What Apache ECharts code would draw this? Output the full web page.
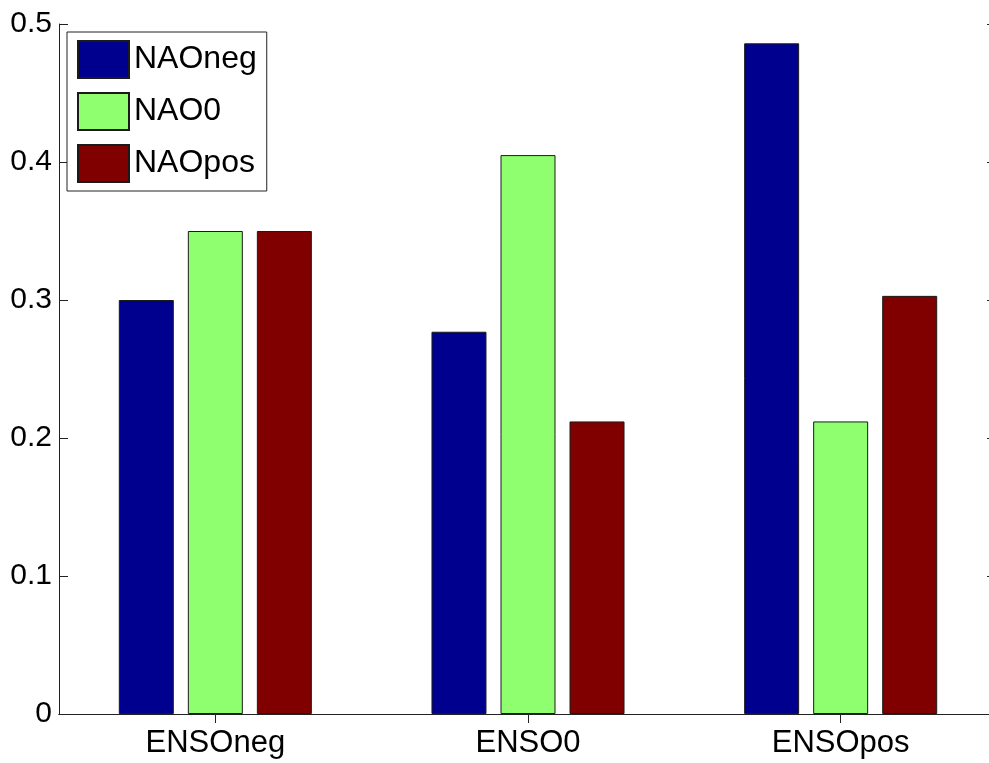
<!DOCTYPE html>
<html>
<head>
<meta charset="utf-8">
<script src="https://cdn.jsdelivr.net/npm/echarts@6/dist/echarts.min.js"></script>
<style>
html,body{margin:0;padding:0;background:#fff;}
#chart{width:989px;height:763px;}
</style>
</head>
<body>
<div id="chart"></div>
<script>
const categories = ['ENSOneg', 'ENSO0', 'ENSOpos'];
const seriesNames = ['NAOneg', 'NAO0', 'NAOpos'];
const naoNeg = [0.300, 0.277, 0.486];
const nao0 = [0.350, 0.405, 0.212];
const naoPos = [0.350, 0.212, 0.303];
const colors = ['#00008F', '#8FFF6F', '#800000'];

const FONT = "'Liberation Sans', Arial, Helvetica, sans-serif";
const axisColor = '#222';
const seriesData = [naoNeg, nao0, naoPos];

const chart = echarts.init(document.getElementById('chart'));
chart.setOption({
  animation: false,
  backgroundColor: '#fff',
  textStyle: { fontFamily: FONT },
  grid: { left: 59, right: -8, top: 24, height: 690, containLabel: false, outerBoundsMode: 'none' },
  legend: {
    orient: 'vertical',
    left: 67,
    top: 32,
    itemWidth: 51,
    itemHeight: 37,
    itemGap: 13,
    padding: [8, 10, 8, 10],
    backgroundColor: '#fff',
    borderColor: axisColor,
    borderWidth: 1,
    borderRadius: 0,
    icon: 'rect',
    data: seriesNames,
    textStyle: { fontFamily: FONT, fontSize: 32, color: '#000', width: 124 }
  },
  xAxis: [
    {
      type: 'category', data: categories, position: 'bottom', boundaryGap: true,
      axisLine: { show: true, lineStyle: { color: axisColor, width: 1 } },
      axisTick: { show: true, inside: true, alignWithLabel: true, length: 9, lineStyle: { color: axisColor } },
      axisLabel: { color: '#000', fontSize: 31, fontFamily: FONT, margin: 14 },
      splitLine: { show: false }
    },
    {
      type: 'category', data: categories, position: 'top', boundaryGap: true,
      axisLine: { show: true, lineStyle: { color: axisColor, width: 1 } },
      axisTick: { show: true, inside: true, alignWithLabel: true, length: 9, lineStyle: { color: axisColor } },
      axisLabel: { show: false },
      splitLine: { show: false }
    }
  ],
  yAxis: [
    {
      type: 'value', min: 0, max: 0.5, interval: 0.1, position: 'left',
      axisLine: { show: true, lineStyle: { color: axisColor, width: 1 } },
      axisTick: { show: true, inside: true, length: 9, lineStyle: { color: axisColor } },
      axisLabel: { color: '#000', fontSize: 30, fontFamily: FONT, margin: 7, padding: [8, 0, 0, 0] },
      splitLine: { show: false }
    },
    {
      type: 'value', min: 0, max: 0.5, interval: 0.1, position: 'right',
      axisLine: { show: true, lineStyle: { color: axisColor, width: 1 } },
      axisTick: { show: true, inside: true, length: 10, lineStyle: { color: axisColor } },
      axisLabel: { show: false },
      splitLine: { show: false }
    }
  ],
  series: seriesNames.map((name, i) => ({
    name: name,
    type: 'bar',
    data: seriesData[i],
    barWidth: 55,
    barGap: '25.5%',
    itemStyle: { color: colors[i], borderColor: '#1a1a1a', borderWidth: 1 }
  }))
});
</script>
</body>
</html>
